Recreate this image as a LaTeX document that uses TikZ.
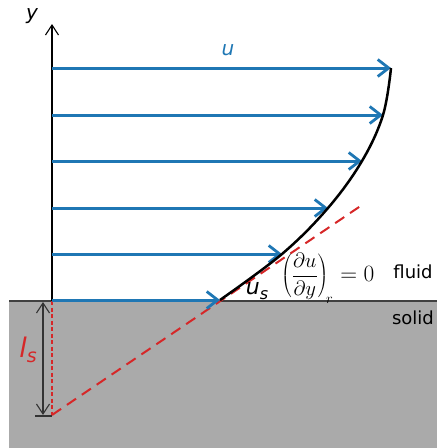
\documentclass[tikz,border=0pt]{standalone}
\usepackage{graphicx}
\usepackage{fontspec}
\setmainfont{DejaVu Sans}
\usetikzlibrary{arrows.meta}
\definecolor{mblue}{HTML}{1F77B4}
\definecolor{mred}{HTML}{D62728}
\definecolor{solidgray}{HTML}{AAAAAA}
\tikzset{
  vel/.style={draw=mblue, line width=3pt, -{Straight Barb[length=11pt,width=17pt,line width=2.8pt]}},
  lbl/.style={inner sep=0pt, font=\fontsize{18}{20}\selectfont},
}
\newcommand{\subs}[2]{\raisebox{-0.35ex}{\fontsize{#1}{#1}\selectfont #2}}
\begin{document}
\begin{tikzpicture}[x=1pt,y=-1pt]
\useasboundingbox (0,0) rectangle (437,448);
% solid region
\fill[solidgray] (9,301) rectangle (437,448);
\draw[line width=2pt, black!75] (9,301) -- (437,301);
% axis
\coordinate (o) at (52,301);
\coordinate (ytop) at (52,24);
\draw[line width=1.1pt, -{Straight Barb[length=10pt,width=13pt,line width=1.1pt]}] (o) -- (ytop);
\node[lbl, font=\fontsize{20}{22}\selectfont\itshape] (ylab) at (32,16) {y};
% profile points
\coordinate (p0) at (220,300);
\coordinate (p1) at (282,254);
\coordinate (p2) at (328,208);
\coordinate (p3) at (362,161);
\coordinate (p4) at (383,115);
\coordinate (p5) at (391,68);
\coordinate (s0) at (52,300);
\coordinate (s1) at (52,254);
\coordinate (s2) at (52,208);
\coordinate (s3) at (52,161);
\coordinate (s4) at (52,115);
\coordinate (s5) at (52,68);
% red slip extrapolation
\coordinate (slipbot) at (52,415);
\coordinate (slipend) at (362,205);
\draw[mred, line width=2pt, dash pattern=on 11pt off 7pt] (slipbot) -- (slipend);
\draw[mred, line width=1.2pt, dash pattern=on 4pt off 2.5pt] (o) -- (slipbot);
% velocity arrows
\foreach \i in {0,...,5} \draw[vel] (s\i) -- (p\i);
% profile curve
\draw[line width=2.5pt, black] plot[smooth, tension=0.6] coordinates {(220,300) (282,254) (328,208) (362,161) (383,115) (391,68)};
% slip length marker
\coordinate (tickl) at (35,416);
\coordinate (tickr) at (52,416);
\draw[line width=1.3pt, black!80] (tickl) -- (tickr);
\coordinate (dtop) at (43,302);
\coordinate (dbot) at (43,415);
\draw[line width=1.1pt, black!80, {Straight Barb[length=10pt,width=13pt,line width=1.1pt]}-{Straight Barb[length=10pt,width=13pt,line width=1.1pt]}] (dtop) -- (dbot);
% labels
\node[lbl, text=mred, font=\fontsize{27}{29}\selectfont\itshape] (ls) at (28,350) {l\subs{19}{s}};
\node[lbl, text=mblue, font=\fontsize{20}{22}\selectfont\itshape] (ulab) at (228,50) {u};
\node[lbl, font=\fontsize{22}{24}\selectfont\itshape] (us) at (257,291) {u\subs{16}{s}};
\node[lbl, anchor=west, font=\fontsize{17}{19}\selectfont] (eq) at (281,278) {\scalebox{1.2}{$\displaystyle\left(\frac{\partial u}{\partial y}\right)_{\!\raisebox{-2.5pt}{$\scriptstyle r$}}$}\hspace{7pt}\scalebox{1.35}{$=0$}};
\node[lbl] (fluid) at (413,272) {fluid};
\node[lbl] (solid) at (413,318) {solid};
\end{tikzpicture}
\end{document}
